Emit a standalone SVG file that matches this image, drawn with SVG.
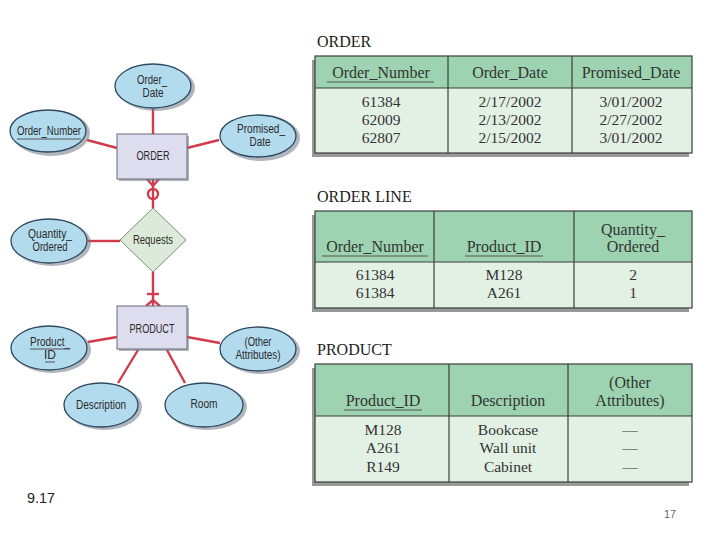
<svg xmlns="http://www.w3.org/2000/svg" width="720" height="540" viewBox="0 0 720 540">
<style>
.attr{fill:#b3dbee;stroke:#2f4a60;stroke-width:1.3}
.shadow{fill:#6d7a86;opacity:0.55}
.ent{fill:#dedcef;stroke:#6b6b7a;stroke-width:1}
.rel{fill:#dcebd9;stroke:#7d8c7a;stroke-width:1}
.lbl{font-family:"Liberation Sans",Arial,sans-serif;font-size:12px;fill:#2a2a2a;text-anchor:middle}
.conn{stroke:#d13b4b;stroke-width:2.4;fill:none}
.ttl{font-family:"Liberation Serif","Times New Roman",serif;font-size:16px;fill:#222}
.th{font-family:"Liberation Serif","Times New Roman",serif;font-size:16px;fill:#333;text-anchor:middle}
.td{font-family:"Liberation Serif","Times New Roman",serif;font-size:15.5px;fill:#333;text-anchor:middle}
.hdr{fill:#9dd3b0}
.body{fill:#e3f1e5}
.tline{stroke:#3a3f3a;stroke-width:1.2;fill:none}
.tshadow{fill:#6b6f6b;opacity:0.7}
.ul{stroke:#555;stroke-width:1}
</style>
<rect width="720" height="540" fill="#ffffff"/>

<g id="connectors">
<line class="conn" x1="153" y1="109" x2="153" y2="134"/>
<line class="conn" x1="87" y1="140" x2="117" y2="148"/>
<line class="conn" x1="187" y1="148" x2="219" y2="140"/>
<line class="conn" x1="153" y1="179" x2="153" y2="208"/>
<path class="conn" d="M147,179 L153,186 L159,179"/>
<circle class="conn" cx="153" cy="194" r="5" fill="#fff"/>
<line class="conn" x1="88" y1="241" x2="120" y2="241"/>
<line class="conn" x1="153" y1="272" x2="153" y2="306"/>
<line class="conn" x1="147" y1="294" x2="159" y2="294"/>
<path class="conn" d="M146,306 L153,300 L160,306"/>
<line class="conn" x1="88" y1="342" x2="117" y2="337"/>
<line class="conn" x1="187" y1="337" x2="220" y2="343"/>
<line class="conn" x1="138" y1="350" x2="118" y2="383"/>
<line class="conn" x1="167" y1="350" x2="185" y2="383"/>
</g>

<g id="order_date">
<ellipse class="shadow" cx="156" cy="88" rx="39" ry="23"/>
<ellipse class="attr" cx="153" cy="86" rx="38" ry="22"/>
<text class="lbl" x="152" y="84" textLength="30" lengthAdjust="spacingAndGlyphs">Order_</text>
<text class="lbl" x="153" y="97" textLength="21" lengthAdjust="spacingAndGlyphs">Date</text>
</g>
<g id="order_number">
<ellipse class="shadow" cx="51" cy="133" rx="39" ry="23"/>
<ellipse class="attr" cx="48" cy="131" rx="38" ry="21"/>
<text class="lbl" x="49" y="135" textLength="64" lengthAdjust="spacingAndGlyphs">Order_Number</text>
<line class="ul" x1="17" y1="139" x2="81" y2="139"/>
</g>
<g id="promised_date">
<ellipse class="shadow" cx="261" cy="138" rx="39" ry="23"/>
<ellipse class="attr" cx="258" cy="136" rx="38" ry="21"/>
<text class="lbl" x="261" y="133" textLength="48" lengthAdjust="spacingAndGlyphs">Promised_</text>
<text class="lbl" x="260" y="146" textLength="21" lengthAdjust="spacingAndGlyphs">Date</text>
</g>
<g id="order">
<rect class="shadow" x="119" y="136" width="70" height="45"/>
<rect class="ent" x="117" y="134" width="70" height="45"/>
<text class="lbl" x="153" y="160" textLength="33" lengthAdjust="spacingAndGlyphs">ORDER</text>
</g>
<g id="requests">
<polygon class="rel" points="153,208 186,240 153,272 120,240"/>
<text class="lbl" x="153" y="244" textLength="40" lengthAdjust="spacingAndGlyphs">Requests</text>
</g>
<g id="quantity_ordered">
<ellipse class="shadow" cx="52" cy="243" rx="39" ry="23"/>
<ellipse class="attr" cx="49" cy="241" rx="38" ry="22"/>
<text class="lbl" x="50" y="238" textLength="44" lengthAdjust="spacingAndGlyphs">Quantity_</text>
<text class="lbl" x="50" y="251" textLength="35" lengthAdjust="spacingAndGlyphs">Ordered</text>
</g>
<g id="product">
<rect class="shadow" x="119" y="308" width="70" height="43"/>
<rect class="ent" x="117" y="306" width="70" height="43"/>
<text class="lbl" x="152" y="333" textLength="45" lengthAdjust="spacingAndGlyphs">PRODUCT</text>
</g>
<g id="product_id">
<ellipse class="shadow" cx="52" cy="350" rx="39" ry="23"/>
<ellipse class="attr" cx="49" cy="348" rx="38" ry="22"/>
<text class="lbl" x="50" y="346" textLength="40" lengthAdjust="spacingAndGlyphs">Product_</text>
<text class="lbl" x="50" y="359">ID</text>
<line class="ul" x1="30" y1="349" x2="70" y2="349"/>
<line class="ul" x1="45" y1="362" x2="55" y2="362"/>
</g>
<g id="other_attributes">
<ellipse class="shadow" cx="261" cy="351" rx="39" ry="23"/>
<ellipse class="attr" cx="258" cy="349" rx="38" ry="22"/>
<text class="lbl" x="258" y="346" textLength="27" lengthAdjust="spacingAndGlyphs">(Other</text>
<text class="lbl" x="258" y="359" textLength="45" lengthAdjust="spacingAndGlyphs">Attributes)</text>
</g>
<g id="description">
<ellipse class="shadow" cx="104" cy="407" rx="38" ry="23"/>
<ellipse class="attr" cx="101" cy="405" rx="37" ry="22"/>
<text class="lbl" x="101" y="409" textLength="50" lengthAdjust="spacingAndGlyphs">Description</text>
</g>
<g id="room">
<ellipse class="shadow" cx="207" cy="407" rx="40" ry="23"/>
<ellipse class="attr" cx="204" cy="405" rx="39" ry="22"/>
<text class="lbl" x="204" y="408" textLength="27" lengthAdjust="spacingAndGlyphs">Room</text>
</g>

<g id="order_table">
<text class="ttl" x="317" y="47">ORDER</text>
<rect class="tshadow" x="312" y="60" width="377" height="97"/>
<rect class="hdr" x="315" y="56" width="377" height="32"/>
<rect class="body" x="315" y="88" width="377" height="65"/>
<rect class="tline" x="315" y="56" width="377" height="97"/>
<line class="tline" x1="315" y1="88" x2="692" y2="88"/>
<line class="tline" x1="448" y1="56" x2="448" y2="153"/>
<line class="tline" x1="572" y1="56" x2="572" y2="153"/>
<text class="th" x="381" y="78">Order_Number</text>
<line class="ul" x1="327" y1="82" x2="434" y2="82"/>
<text class="th" x="510" y="78">Order_Date</text>
<text class="th" x="631" y="78">Promised_Date</text>
<text class="td" x="381" y="107">61384</text>
<text class="td" x="381" y="125">62009</text>
<text class="td" x="381" y="143">62807</text>
<text class="td" x="510" y="107">2/17/2002</text>
<text class="td" x="510" y="125">2/13/2002</text>
<text class="td" x="510" y="143">2/15/2002</text>
<text class="td" x="631" y="107">3/01/2002</text>
<text class="td" x="631" y="125">2/27/2002</text>
<text class="td" x="631" y="143">3/01/2002</text>
</g>

<g id="order_line_table">
<text class="ttl" x="317" y="202">ORDER LINE</text>
<rect class="tshadow" x="312" y="215" width="377" height="97"/>
<rect class="hdr" x="315" y="211" width="377" height="51"/>
<rect class="body" x="315" y="262" width="377" height="46"/>
<rect class="tline" x="315" y="211" width="377" height="97"/>
<line class="tline" x1="315" y1="262" x2="692" y2="262"/>
<line class="tline" x1="434" y1="211" x2="434" y2="308"/>
<line class="tline" x1="574" y1="211" x2="574" y2="308"/>
<text class="th" x="375" y="252">Order_Number</text>
<line class="ul" x1="322" y1="256" x2="428" y2="256"/>
<text class="th" x="504" y="252">Product_ID</text>
<line class="ul" x1="465" y1="256" x2="543" y2="256"/>
<text class="th" x="633" y="235">Quantity_</text>
<text class="th" x="633" y="252">Ordered</text>
<text class="td" x="375" y="280">61384</text>
<text class="td" x="375" y="298">61384</text>
<text class="td" x="504" y="280">M128</text>
<text class="td" x="504" y="298">A261</text>
<text class="td" x="633" y="280">2</text>
<text class="td" x="633" y="298">1</text>
</g>

<g id="product_table">
<text class="ttl" x="317" y="355">PRODUCT</text>
<rect class="tshadow" x="312" y="368" width="377" height="118"/>
<rect class="hdr" x="315" y="364" width="377" height="52"/>
<rect class="body" x="315" y="416" width="377" height="66"/>
<rect class="tline" x="315" y="364" width="377" height="118"/>
<line class="tline" x1="315" y1="416" x2="692" y2="416"/>
<line class="tline" x1="449" y1="364" x2="449" y2="482"/>
<line class="tline" x1="568" y1="364" x2="568" y2="482"/>
<text class="th" x="383" y="406">Product_ID</text>
<line class="ul" x1="344" y1="410" x2="422" y2="410"/>
<text class="th" x="508" y="406">Description</text>
<text class="th" x="630" y="388">(Other</text>
<text class="th" x="630" y="406">Attributes)</text>
<text class="td" x="383" y="435">M128</text>
<text class="td" x="383" y="453">A261</text>
<text class="td" x="383" y="472">R149</text>
<text class="td" x="508" y="435">Bookcase</text>
<text class="td" x="508" y="453">Wall unit</text>
<text class="td" x="508" y="472">Cabinet</text>
<text class="td" x="630" y="435">—</text>
<text class="td" x="630" y="453">—</text>
<text class="td" x="630" y="472">—</text>
</g>

<text x="27" y="503" font-family="Liberation Sans,Arial,sans-serif" font-size="15" fill="#222" textLength="28" lengthAdjust="spacingAndGlyphs">9.17</text>
<text x="664" y="518" font-family="Liberation Sans,Arial,sans-serif" font-size="11" fill="#666" textLength="12" lengthAdjust="spacingAndGlyphs">17</text>
</svg>
